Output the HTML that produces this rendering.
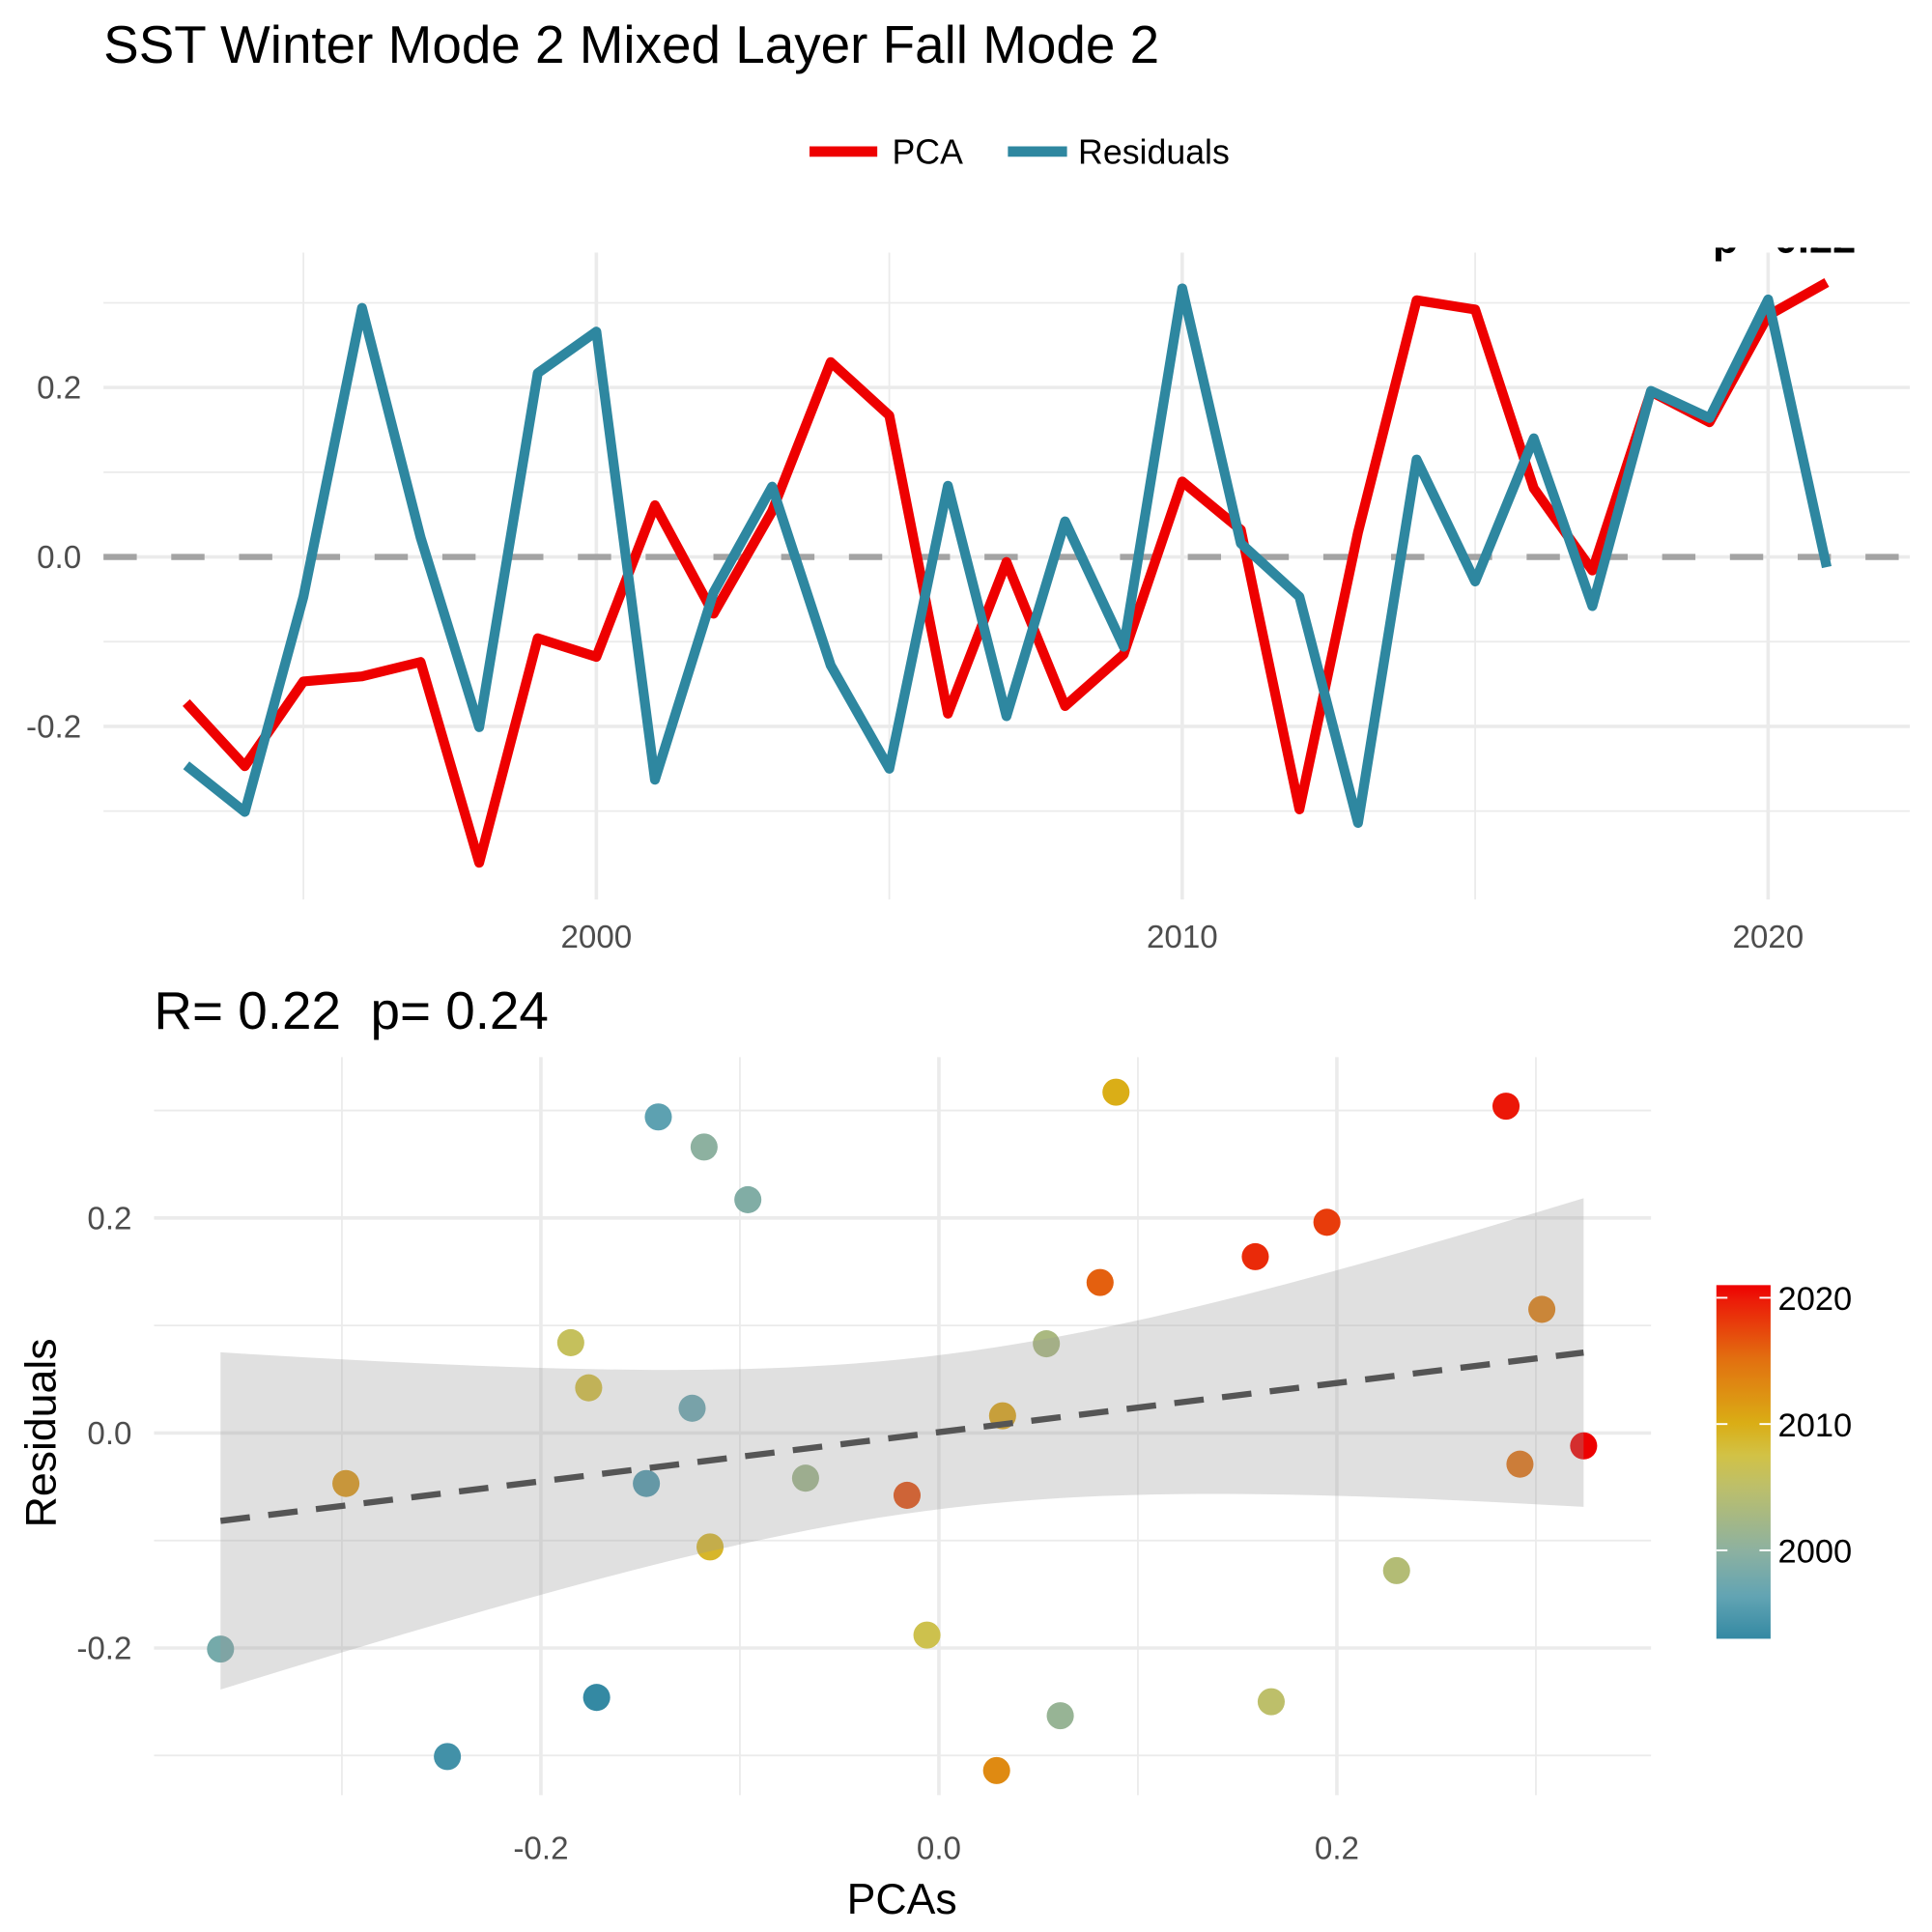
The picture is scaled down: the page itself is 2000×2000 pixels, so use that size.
<!DOCTYPE html>
<html><head><meta charset="utf-8"><style>
html,body{margin:0;padding:0;background:#fff;}
svg{display:block;font-family:"Liberation Sans",Arial,sans-serif;}
</style></head><body>
<svg id="chart" width="2000" height="2000" viewBox="0 0 1568 1568" xmlns="http://www.w3.org/2000/svg">
<text x="84" y="51" font-size="43" fill="#000">SST Winter Mode 2 Mixed Layer Fall Mode 2</text>
<g>
  <line x1="657" y1="123" x2="712" y2="123" stroke="#EE0000" stroke-width="8.5"/>
  <text x="724" y="133" font-size="28">PCA</text>
  <line x1="818" y1="123" x2="866" y2="123" stroke="#2E87A0" stroke-width="8.5"/>
  <text x="875" y="133" font-size="28">Residuals</text>
</g>
<g id="top"></g>
<g id="bot"></g>
<text x="125" y="835" font-size="43" xml:space="preserve">R= 0.22  p= 0.24</text>
<text x="732" y="1553" font-size="35" text-anchor="middle">PCAs</text>
<text x="0" y="0" font-size="35" text-anchor="middle" transform="translate(45,1163) rotate(-90)">Residuals</text>
<defs>
  <linearGradient id="cb" x1="0" y1="1" x2="0" y2="0">
    <stop offset="0" stop-color="#3489A3"/>
    <stop offset="0.12" stop-color="#62A4B3"/>
    <stop offset="0.25" stop-color="#8DB1A0"/>
    <stop offset="0.43" stop-color="#BDBF6A"/>
    <stop offset="0.52" stop-color="#D2C245"/>
    <stop offset="0.61" stop-color="#DAAD15"/>
    <stop offset="0.79" stop-color="#E27010"/>
    <stop offset="0.96" stop-color="#EC1A08"/>
    <stop offset="1" stop-color="#EE0000"/>
  </linearGradient>
  <clipPath id="topclip"><rect x="1300" y="201" width="268" height="400"/></clipPath>
</defs>
<g>
  <rect x="1393" y="1043" width="44" height="287" fill="url(#cb)"/>
  <g id="cbticks"></g>
</g>
<text clip-path="url(#topclip)" x="1390" y="205" font-size="34" font-weight="bold">p= 0.22</text>
</svg>
<script>
const years = [1993,1994,1995,1996,1997,1998,1999,2000,2001,2002,2003,2004,2005,2006,2007,2008,2009,2010,2011,2012,2013,2014,2015,2016,2017,2018,2019,2020,2021];
const pca = [-0.172,-0.247,-0.147,-0.141,-0.124,-0.361,-0.096,-0.118,0.061,-0.067,0.054,0.230,0.167,-0.185,-0.006,-0.176,-0.115,0.089,0.032,-0.298,0.029,0.303,0.292,0.081,-0.016,0.195,0.159,0.285,0.324];
const resid = [-0.246,-0.301,-0.047,0.294,0.023,-0.201,0.217,0.266,-0.263,-0.042,0.083,-0.128,-0.250,0.084,-0.188,0.042,-0.106,0.317,0.016,-0.047,-0.314,0.115,-0.029,0.140,-0.058,0.196,0.164,0.304,-0.012];
const topYTicks = [-0.2,0.0,0.2];
const topYMinor = [-0.3,-0.1,0.1,0.3];
const topXTicks = [2000,2010,2020];
const topXMinor = [1995,2005,2015];
const botXTicks = [-0.2,0.0,0.2];
const botXMinor = [-0.3,-0.1,0.1,0.3];
const botYTicks = [-0.2,0.0,0.2];
const botYMinor = [-0.3,-0.1,0.1,0.3];
const cbTicks = [2000,2010,2020];

const NS="http://www.w3.org/2000/svg";
function mk(parent,tag,attrs){const e=document.createElementNS(NS,tag);for(const k in attrs)e.setAttribute(k,attrs[k]);parent.appendChild(e);return e;}
const fmt=v=>v.toFixed(1).replace('-0.0','0.0');
const TF=26;

const T=document.getElementById('top');
const tx=y=>484+(y-2000)*47.55;
const ty=v=>452-v*687.5;
for(const v of topYMinor){const l=mk(T,'line',{x1:84,x2:1550,y1:ty(v),y2:ty(v),stroke:'#EBEBEB','stroke-width':1.4});

}
for(const v of topXMinor){const l=mk(T,'line',{x1:tx(v),x2:tx(v),y1:205,y2:730,stroke:'#EBEBEB','stroke-width':1.4});

}
for(const v of topYTicks){const l=mk(T,'line',{x1:84,x2:1550,y1:ty(v),y2:ty(v),stroke:'#EBEBEB','stroke-width':2.8});


const t=mk(T,'text',{x:66,y:ty(v)+9,'font-size':TF,'text-anchor':'end',fill:'#4D4D4D'});t.textContent=fmt(v);

}
for(const v of topXTicks){const l=mk(T,'line',{x1:tx(v),x2:tx(v),y1:205,y2:730,stroke:'#EBEBEB','stroke-width':2.8});


const t=mk(T,'text',{x:tx(v),y:769,'font-size':TF,'text-anchor':'middle',fill:'#4D4D4D'});t.textContent=v;

}
const zl=mk(T,'line',{x1:84,x2:1550,y1:ty(0),y2:ty(0),stroke:'#A3A3A3','stroke-width':5,'stroke-dasharray':'27,28'});


const pp=mk(T,'polyline',{points:years.map((y,i)=>tx(y)+','+ty(pca[i])).join(' '),fill:'none',stroke:'#EE0000','stroke-width':8,'stroke-linejoin':'round'});


const rp=mk(T,'polyline',{points:years.map((y,i)=>tx(y)+','+ty(resid[i])).join(' '),fill:'none',stroke:'#2E87A0','stroke-width':8,'stroke-linejoin':'round'});



const B=document.getElementById('bot');
const bx=v=>762+v*1615;
const by=v=>1163-v*872.5;
for(const v of botYMinor){const l=mk(B,'line',{x1:125,x2:1340,y1:by(v),y2:by(v),stroke:'#EBEBEB','stroke-width':1.4});

}
for(const v of botXMinor){const l=mk(B,'line',{x1:bx(v),x2:bx(v),y1:858,y2:1457,stroke:'#EBEBEB','stroke-width':1.4});

}
for(const v of botYTicks){const l=mk(B,'line',{x1:125,x2:1340,y1:by(v),y2:by(v),stroke:'#EBEBEB','stroke-width':2.8});


const t=mk(B,'text',{x:107,y:by(v)+9,'font-size':TF,'text-anchor':'end',fill:'#4D4D4D'});t.textContent=fmt(v);

}
for(const v of botXTicks){const l=mk(B,'line',{x1:bx(v),x2:bx(v),y1:858,y2:1457,stroke:'#EBEBEB','stroke-width':2.8});


const t=mk(B,'text',{x:bx(v),y:1509,'font-size':TF,'text-anchor':'middle',fill:'#4D4D4D'});t.textContent=fmt(v);

}

const stops=[[0,[0x34,0x89,0xA3]],[0.12,[0x62,0xA4,0xB3]],[0.25,[0x8D,0xB1,0xA0]],[0.43,[0xBD,0xBF,0x6A]],[0.52,[0xD2,0xC2,0x45]],[0.61,[0xDA,0xAD,0x15]],[0.79,[0xE2,0x70,0x10]],[0.96,[0xEC,0x1A,0x08]],[1,[0xEE,0,0]]];
function col(y){const t=(y-1993)/(2021-1993);for(let i=1;i<stops.length;i++){if(t<=stops[i][0]){const a=stops[i-1],b=stops[i];const f=(t-a[0])/(b[0]-a[0]);const c=a[1].map((v,k)=>Math.round(v+(b[1][k]-v)*f));return 'rgb('+c.join(',')+')';}}return 'rgb(238,0,0)';}
years.forEach((y,i)=>{const c=mk(B,'circle',{cx:bx(pca[i]),cy:by(resid[i]),r:11,fill:col(y)});

});

const n=pca.length;const mx=pca.reduce((a,b)=>a+b)/n,my=resid.reduce((a,b)=>a+b)/n;
let sxx=0,sxy=0;for(let i=0;i<n;i++){sxx+=(pca[i]-mx)**2;sxy+=(pca[i]-mx)*(resid[i]-my);}
const slope=sxy/sxx,inter=my-slope*mx;let sse=0;for(let i=0;i<n;i++)sse+=(resid[i]-inter-slope*pca[i])**2;
const s=Math.sqrt(sse/(n-2));const tq=2.052;
const xmin=Math.min(...pca),xmax=Math.max(...pca);
const up=[],lo=[];for(let k=0;k<=60;k++){const x=xmin+(xmax-xmin)*k/60;const f=inter+slope*x;const se=s*Math.sqrt(1/n+(x-mx)**2/sxx);up.push(bx(x)+','+by(f+tq*se));lo.unshift(bx(x)+','+by(f-tq*se));}
const band=mk(B,'polygon',{points:up.concat(lo).join(' '),fill:'#999999','fill-opacity':0.3});


const rl=mk(B,'line',{x1:bx(xmin),y1:by(inter+slope*xmin),x2:bx(xmax),y2:by(inter+slope*xmax),stroke:'#555555','stroke-width':5,'stroke-dasharray':'24,15'});



const CB=document.getElementById('cbticks');
const cy=y=>1330-(y-1993)/(2021-1993)*287;
for(const y of cbTicks){
 const a=mk(CB,'line',{x1:1393,x2:1402,y1:cy(y),y2:cy(y),stroke:'#fff','stroke-width':1.5});
 
 
 const b=mk(CB,'line',{x1:1428,x2:1437,y1:cy(y),y2:cy(y),stroke:'#fff','stroke-width':1.5});
 
 
 const t=mk(CB,'text',{x:1443,y:cy(y)+10,'font-size':27,fill:'#000'});t.textContent=y;
 
 
}
</script>
</body></html>
